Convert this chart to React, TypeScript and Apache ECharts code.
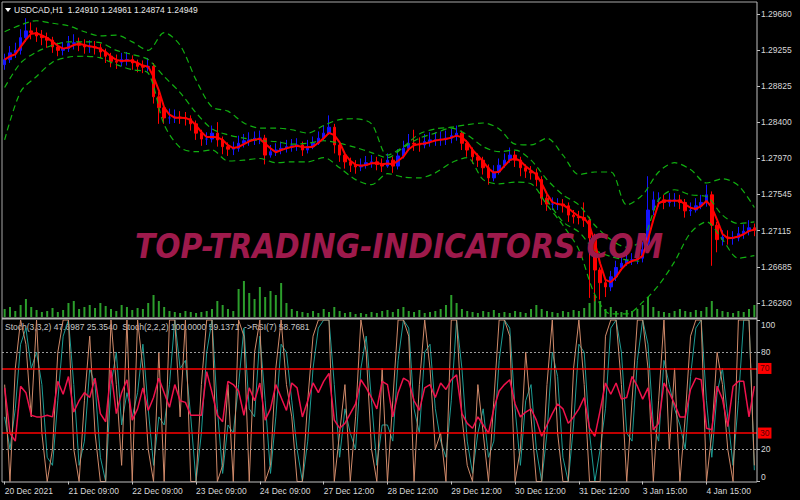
import React, { useEffect, useRef } from 'react';
import * as echarts from 'echarts';

const FONT = '"Liberation Sans", Arial, sans-serif';

const timeLabels = ['20 Dec 2021', '21 Dec 09:00', '22 Dec 09:00', '23 Dec 09:00', '24 Dec 09:00', '27 Dec 12:00', '28 Dec 12:00', '29 Dec 12:00', '30 Dec 12:00', '31 Dec 12:00', '3 Jan 15:00', '4 Jan 15:00'];
const priceTicks = [1.2626, 1.26685, 1.27115, 1.27545, 1.2797, 1.284, 1.28825, 1.29255, 1.2968];
const oscTicks = [0, 20, 80, 100];

// [open, close, low, high]
const candles = [
  [1.2908, 1.2914, 1.2902, 1.2921], [1.2914, 1.2922, 1.2910, 1.2930], [1.2922, 1.2925, 1.2916, 1.2934], [1.2925, 1.2940, 1.2920, 1.2950],
  [1.2940, 1.2948, 1.2935, 1.2963], [1.2948, 1.2946, 1.2938, 1.2958], [1.2946, 1.2942, 1.2935, 1.2952], [1.2942, 1.2940, 1.2931, 1.2949],
  [1.2940, 1.2937, 1.2928, 1.2946], [1.2937, 1.2929, 1.2922, 1.2941], [1.2929, 1.2925, 1.2918, 1.2934], [1.2925, 1.2927, 1.2919, 1.2935],
  [1.2927, 1.2933, 1.2923, 1.2942], [1.2933, 1.2934, 1.2926, 1.2944], [1.2934, 1.2931, 1.2924, 1.2940], [1.2931, 1.2929, 1.2921, 1.2938],
  [1.2929, 1.2929, 1.2922, 1.2937], [1.2929, 1.2928, 1.2920, 1.2936], [1.2928, 1.2923, 1.2916, 1.2933], [1.2923, 1.2918, 1.2910, 1.2927],
  [1.2918, 1.2912, 1.2905, 1.2922], [1.2912, 1.2911, 1.2903, 1.2920], [1.2911, 1.2914, 1.2906, 1.2922], [1.2914, 1.2914, 1.2907, 1.2923],
  [1.2914, 1.2910, 1.2902, 1.2919], [1.2910, 1.2906, 1.2899, 1.2914], [1.2906, 1.2905, 1.2898, 1.2913], [1.2905, 1.2906, 1.2900, 1.2916],
  [1.2906, 1.2870, 1.2862, 1.2910], [1.2870, 1.2857, 1.2838, 1.2876], [1.2857, 1.2845, 1.2838, 1.2862], [1.2845, 1.2845, 1.2838, 1.2856],
  [1.2845, 1.2846, 1.2839, 1.2855], [1.2846, 1.2845, 1.2838, 1.2853], [1.2845, 1.2844, 1.2836, 1.2852], [1.2844, 1.2838, 1.2830, 1.2848],
  [1.2838, 1.2827, 1.2819, 1.2842], [1.2827, 1.2820, 1.2812, 1.2831], [1.2820, 1.2820, 1.2813, 1.2828], [1.2820, 1.2827, 1.2816, 1.2836],
  [1.2827, 1.2819, 1.2811, 1.2840], [1.2819, 1.2811, 1.2802, 1.2823], [1.2811, 1.2808, 1.2800, 1.2816], [1.2808, 1.2809, 1.2801, 1.2817],
  [1.2809, 1.2815, 1.2805, 1.2824], [1.2815, 1.2818, 1.2810, 1.2826], [1.2818, 1.2819, 1.2812, 1.2828], [1.2819, 1.2821, 1.2813, 1.2829],
  [1.2821, 1.2821, 1.2814, 1.2830], [1.2821, 1.2801, 1.2790, 1.2825], [1.2801, 1.2805, 1.2798, 1.2813], [1.2805, 1.2807, 1.2800, 1.2815],
  [1.2807, 1.2809, 1.2802, 1.2817], [1.2809, 1.2811, 1.2804, 1.2819], [1.2811, 1.2812, 1.2805, 1.2820], [1.2812, 1.2813, 1.2806, 1.2821],
  [1.2813, 1.2807, 1.2800, 1.2817], [1.2807, 1.2811, 1.2803, 1.2819], [1.2811, 1.2815, 1.2808, 1.2823], [1.2815, 1.2821, 1.2813, 1.2829],
  [1.2821, 1.2827, 1.2818, 1.2836], [1.2827, 1.2834, 1.2825, 1.2848], [1.2834, 1.2813, 1.2803, 1.2838], [1.2813, 1.2801, 1.2793, 1.2816],
  [1.2801, 1.2793, 1.2785, 1.2805], [1.2793, 1.2789, 1.2781, 1.2798], [1.2789, 1.2787, 1.2779, 1.2795], [1.2787, 1.2789, 1.2782, 1.2797],
  [1.2789, 1.2792, 1.2785, 1.2800], [1.2792, 1.2793, 1.2786, 1.2801], [1.2793, 1.2790, 1.2783, 1.2799], [1.2790, 1.2788, 1.2781, 1.2797],
  [1.2788, 1.2795, 1.2786, 1.2803], [1.2795, 1.2788, 1.2780, 1.2799], [1.2788, 1.2800, 1.2784, 1.2808], [1.2800, 1.2809, 1.2797, 1.2818],
  [1.2809, 1.2815, 1.2806, 1.2826], [1.2815, 1.2814, 1.2806, 1.2831], [1.2814, 1.2813, 1.2805, 1.2822], [1.2813, 1.2817, 1.2809, 1.2826],
  [1.2817, 1.2819, 1.2811, 1.2828], [1.2819, 1.2819, 1.2812, 1.2828], [1.2819, 1.2820, 1.2812, 1.2829], [1.2820, 1.2821, 1.2813, 1.2830],
  [1.2821, 1.2824, 1.2815, 1.2832], [1.2824, 1.2827, 1.2818, 1.2836], [1.2827, 1.2815, 1.2807, 1.2830], [1.2815, 1.2807, 1.2799, 1.2819],
  [1.2807, 1.2799, 1.2791, 1.2810], [1.2799, 1.2795, 1.2787, 1.2803], [1.2795, 1.2786, 1.2778, 1.2799], [1.2786, 1.2774, 1.2766, 1.2790],
  [1.2774, 1.2781, 1.2770, 1.2789], [1.2781, 1.2789, 1.2778, 1.2797], [1.2789, 1.2795, 1.2786, 1.2803], [1.2795, 1.2801, 1.2792, 1.2810],
  [1.2801, 1.2795, 1.2787, 1.2806], [1.2795, 1.2786, 1.2776, 1.2799], [1.2786, 1.2782, 1.2774, 1.2790], [1.2782, 1.2780, 1.2772, 1.2788],
  [1.2780, 1.2772, 1.2764, 1.2785], [1.2772, 1.2750, 1.2742, 1.2776], [1.2750, 1.2743, 1.2735, 1.2754], [1.2743, 1.2743, 1.2736, 1.2751],
  [1.2743, 1.2743, 1.2736, 1.2750], [1.2743, 1.2741, 1.2733, 1.2749], [1.2741, 1.2730, 1.2722, 1.2745], [1.2730, 1.2728, 1.2720, 1.2736],
  [1.2728, 1.2727, 1.2719, 1.2735], [1.2727, 1.2724, 1.2716, 1.2745], [1.2724, 1.2703, 1.2632, 1.2728], [1.2703, 1.2665, 1.2628, 1.2708],
  [1.2665, 1.2650, 1.2630, 1.2668], [1.2650, 1.2645, 1.2633, 1.2655], [1.2645, 1.2657, 1.2640, 1.2664], [1.2657, 1.2668, 1.2652, 1.2676],
  [1.2668, 1.2673, 1.2665, 1.2680], [1.2673, 1.2677, 1.2670, 1.2684], [1.2677, 1.2677, 1.2671, 1.2685], [1.2677, 1.2679, 1.2672, 1.2686],
  [1.2679, 1.2689, 1.2674, 1.2698], [1.2689, 1.2736, 1.2685, 1.2776], [1.2736, 1.2748, 1.2730, 1.2758], [1.2748, 1.2748, 1.2740, 1.2757],
  [1.2748, 1.2745, 1.2737, 1.2754], [1.2745, 1.2748, 1.2740, 1.2756], [1.2748, 1.2748, 1.2740, 1.2756], [1.2748, 1.2745, 1.2737, 1.2754],
  [1.2745, 1.2735, 1.2727, 1.2749], [1.2735, 1.2736, 1.2729, 1.2745], [1.2736, 1.2741, 1.2733, 1.2750], [1.2741, 1.2745, 1.2737, 1.2754],
  [1.2745, 1.2754, 1.2740, 1.2766], [1.2754, 1.2718, 1.2670, 1.2758], [1.2718, 1.2701, 1.2686, 1.2722], [1.2701, 1.2704, 1.2694, 1.2712],
  [1.2704, 1.2703, 1.2695, 1.2712], [1.2703, 1.2703, 1.2695, 1.2711], [1.2703, 1.2708, 1.2699, 1.2716], [1.2708, 1.2711, 1.2702, 1.2719],
  [1.2711, 1.2715, 1.2706, 1.2724], [1.2715, 1.2712, 1.2705, 1.2720],
];

const volumes = [
  800, 1000, 600, 1200, 1800, 1000, 700, 500, 600, 900, 500, 700, 1400, 1600, 800, 1000, 1200, 900, 1400, 1100,
  800, 600, 1200, 1000, 700, 900, 800, 1400, 2200, 1600, 1000, 600, 500, 400, 600, 500, 400, 500, 600, 800,
  1600, 1200, 800, 600, 2800, 3600, 2400, 1800, 3000, 2000, 2600, 2200, 3400, 1400, 800, 600, 500, 400, 600, 400,
  800, 500, 1000, 600, 400, 500, 300, 400, 300, 500, 400, 600, 700, 500, 800, 1000, 600, 500, 700, 400,
  500, 600, 800, 1200, 2200, 1400, 800, 600, 500, 400, 600, 500, 700, 400, 500, 400, 600, 500, 400, 800,
  1200, 800, 600, 500, 400, 600, 500, 700, 600, 900, 1400, 2200, 1600, 800, 1000, 600, 500, 700, 600, 800,
  1200, 2000, 1000, 600, 500, 400, 600, 800, 600, 500, 700, 600, 1000, 1600, 800, 600, 500, 400, 600, 500,
  800, 1200,
];

// Bollinger-style dashed envelopes, sampled every 3 bars
const bandUpperOuter = [
  1.2947, 1.2955, 1.2960, 1.2957, 1.2954, 1.2947, 1.2942, 1.2943, 1.2935, 1.2925,
  1.2946, 1.2931, 1.2890, 1.2858, 1.2853, 1.2839, 1.2833, 1.2833, 1.2831, 1.2827,
  1.2836, 1.2843, 1.2844, 1.2838, 1.2801, 1.2811, 1.2826, 1.2832, 1.2834, 1.2837,
  1.2839, 1.2832, 1.2814, 1.2813, 1.2821, 1.2801, 1.2778, 1.2781, 1.2781, 1.2742,
  1.2754, 1.2781, 1.2792, 1.2784, 1.2768, 1.2773, 1.2765, 1.2739,
];
const bandUpperInner = [
  1.2881, 1.2910, 1.2923, 1.2931, 1.2935, 1.2935, 1.2934, 1.2925, 1.2920, 1.2914,
  1.2894, 1.2875, 1.2851, 1.2832, 1.2825, 1.2821, 1.2818, 1.2817, 1.2814, 1.2815,
  1.2818, 1.2815, 1.2810, 1.2804, 1.2798, 1.2810, 1.2821, 1.2827, 1.2833, 1.2825,
  1.2811, 1.2805, 1.2807, 1.2795, 1.2772, 1.2754, 1.2742, 1.2718, 1.2701, 1.2692,
  1.2701, 1.2748, 1.2760, 1.2754, 1.2752, 1.2730, 1.2720, 1.2722,
];
const bandLowerInner = [
  null, null, null, null, null, null, null, null, null, null,
  null, null, null, null, null, null, null, null, null, null,
  null, null, null, null, null, null, null, null, null, null,
  null, null, null, null, 1.2748, 1.2722, 1.2710, 1.2689, 1.2681, 1.2677,
  1.2675, null, null, null, null, null, null, null,
];
const bandLowerOuter = [
  1.2819, 1.2876, 1.2894, 1.2911, 1.2917, 1.2918, 1.2916, 1.2908, 1.2902, 1.2898,
  1.2837, 1.2810, 1.2805, 1.2807, 1.2794, 1.2795, 1.2797, 1.2792, 1.2793, 1.2793,
  1.2798, 1.2786, 1.2772, 1.2766, 1.2779, 1.2775, 1.2774, 1.2780, 1.2792, 1.2798,
  1.2772, 1.2767, 1.2769, 1.2767, 1.2742, 1.2718, 1.2689, 1.2636, 1.2613, 1.2613,
  1.2627, 1.2647, 1.2675, 1.2709, 1.2722, 1.2701, 1.2679, 1.2682,
];

const stochFast = [
  60, 0, 70, 100, 85, 40, 100, 30, 0, 20, 80, 100, 100, 20, 0, 50, 90, 30, 0, 0,
  100, 60, 10, 100, 0, 100, 70, 20, 0, 80, 0, 100, 100, 40, 100, 0, 0, 60, 100, 100,
  0, 10, 60, 0, 100, 90, 0, 80, 100, 0, 10, 70, 100, 60, 40, 0, 0, 50, 90, 100,
  100, 100, 0, 30, 60, 0, 40, 100, 80, 20, 0, 70, 0, 50, 100, 100, 90, 0, 60, 100,
  70, 20, 30, 0, 100, 100, 40, 10, 0, 60, 30, 0, 50, 100, 100, 90, 0, 20, 80, 40,
  0, 0, 60, 100, 30, 0, 0, 70, 100, 60, 0, 0, 0, 90, 100, 100, 60, 0, 50, 100,
  100, 70, 0, 50, 100, 20, 70, 0, 40, 90, 100, 100, 0, 30, 80, 60, 20, 0, 100, 100,
  100, 10,
];
const stochSlow = [
  40, 20, 45, 85, 95, 70, 80, 60, 15, 10, 50, 90, 100, 60, 10, 25, 70, 60, 15, 0,
  60, 80, 35, 55, 40, 55, 85, 45, 10, 40, 35, 60, 100, 70, 75, 40, 0, 30, 80, 100,
  45, 5, 35, 30, 60, 95, 45, 40, 90, 50, 5, 40, 85, 80, 50, 20, 0, 25, 70, 95,
  100, 100, 60, 15, 45, 30, 20, 70, 90, 50, 10, 35, 35, 25, 75, 100, 95, 45, 30, 80,
  85, 45, 25, 15, 50, 100, 70, 25, 5, 30, 45, 15, 25, 75, 100, 95, 45, 10, 50, 60,
  20, 0, 30, 80, 65, 15, 0, 35, 85, 80, 30, 0, 20, 45, 95, 100, 80, 30, 25, 75,
  100, 85, 35, 25, 75, 60, 45, 35, 20, 65, 95, 100, 50, 15, 55, 70, 40, 10, 50, 100,
  100, 7,
];
const rsi = [
  58, 30, 25, 59, 55, 41, 40, 40, 41, 40, 62, 54, 65, 43, 50, 55, 52, 64, 42, 37,
  69, 42, 55, 63, 38, 45, 58, 44, 52, 64, 55, 46, 60, 50, 49, 41, 41, 41, 68, 55,
  41, 37, 62, 60, 56, 41, 58, 50, 61, 38, 45, 60, 52, 44, 61, 58, 40, 50, 61, 55,
  62, 67, 38, 33, 36, 42, 48, 63, 58, 52, 45, 62, 60, 40, 55, 64, 62, 50, 44, 58,
  60, 52, 61, 57, 63, 66, 42, 36, 33, 40, 35, 30, 45, 56, 60, 63, 48, 40, 43, 45,
  38, 28, 35, 42, 48, 45, 36, 40, 45, 52, 33, 28, 44, 61, 54, 61, 51, 52, 65, 59,
  51, 58, 32, 36, 61, 55, 48, 40, 40, 57, 64, 63, 33, 32, 59, 51, 34, 59, 62, 62,
  40, 59,
];

const categories = candles.map((_, i) => (i % 12 === 0 ? timeLabels[i / 12] : ''));
const closes = candles.map((c) => c[1]);
const ma = closes.map((_, i) => {
  const s = closes.slice(Math.max(0, i - 2), i + 1);
  return +(s.reduce((a, b) => a + b, 0) / s.length).toFixed(5);
});
const bandIdx = bandUpperOuter.map((_, k) => k * 3);
const toPairs = (arr: (number | null)[]) =>
  arr.map((v, k) => (v == null ? null : [bandIdx[k], v])).filter((p) => p !== null);

const axisText = { color: '#d8d8d8', fontSize: 8.5, fontFamily: FONT };

function bandSeries(data: (number | null)[]) {
  return {
    type: 'line',
    xAxisIndex: 0,
    yAxisIndex: 0,
    data: toPairs(data),
    symbol: 'none',
    smooth: 0.3,
    silent: true,
    z: 3,
    lineStyle: { color: '#10b010', width: 1.2, type: [6, 4] },
  };
}

const option = {
  backgroundColor: '#000000',
  animation: false,
  grid: [
    { left: 2, right: 43, top: 3, height: 314 },
    { left: 2, right: 43, top: 277, height: 40 },
    { left: 2, right: 43, top: 320, height: 161.5 },
  ],
  xAxis: [
    { type: 'category', gridIndex: 0, data: categories, show: false, boundaryGap: true },
    { type: 'category', gridIndex: 1, data: categories, show: false, boundaryGap: true },
    {
      type: 'category',
      gridIndex: 2,
      data: categories,
      boundaryGap: true,
      axisLine: { show: false },
      axisTick: { show: true, interval: 11, alignWithLabel: true, length: 3, lineStyle: { color: '#c0c0c0' } },
      axisLabel: { ...axisText, interval: 11, align: 'left', margin: 5 },
      splitLine: { show: false },
    },
  ],
  yAxis: [
    {
      type: 'value',
      gridIndex: 0,
      position: 'right',
      min: 1.26094,
      max: 1.2981,
      splitLine: { show: false },
      axisLine: { show: false },
      axisTick: { show: true, customValues: priceTicks, length: 3, lineStyle: { color: '#c0c0c0' } },
      axisLabel: { ...axisText, customValues: priceTicks, margin: 4, formatter: (v: number) => v.toFixed(5) },
    },
    { type: 'value', gridIndex: 1, min: 0, max: 4000, show: false },
    {
      type: 'value',
      gridIndex: 2,
      position: 'right',
      min: 0,
      max: 100,
      splitLine: { show: false },
      axisLine: { show: false },
      axisTick: { show: true, customValues: oscTicks, length: 3, lineStyle: { color: '#c0c0c0' } },
      axisLabel: {
        ...axisText,
        customValues: oscTicks,
        margin: 4,
        verticalAlignMinLabel: 'bottom',
        verticalAlignMaxLabel: 'top',
      },
    },
  ],
  series: [
    {
      type: 'candlestick',
      xAxisIndex: 0,
      yAxisIndex: 0,
      data: candles,
      barWidth: 3,
      silent: true,
      z: 2,
      itemStyle: { color: '#1414ff', color0: '#ff0000', borderColor: '#1414ff', borderColor0: '#ff0000', borderWidth: 1 },
    },
    bandSeries(bandUpperOuter),
    bandSeries(bandUpperInner),
    bandSeries(bandLowerInner),
    bandSeries(bandLowerOuter),
    {
      type: 'line',
      xAxisIndex: 0,
      yAxisIndex: 0,
      data: ma,
      symbol: 'none',
      silent: true,
      z: 4,
      lineStyle: { color: '#ff0000', width: 2 },
    },
    {
      type: 'bar',
      xAxisIndex: 1,
      yAxisIndex: 1,
      data: volumes,
      barWidth: 2,
      silent: true,
      itemStyle: { color: '#2c9e2c' },
    },
    {
      type: 'line',
      xAxisIndex: 2,
      yAxisIndex: 2,
      data: stochSlow,
      symbol: 'none',
      silent: true,
      lineStyle: { color: '#1c9c94', width: 1 },
    },
    {
      type: 'line',
      xAxisIndex: 2,
      yAxisIndex: 2,
      data: stochFast,
      symbol: 'none',
      silent: true,
      lineStyle: { color: '#d08a6a', width: 1 },
    },
    {
      type: 'line',
      xAxisIndex: 2,
      yAxisIndex: 2,
      data: rsi,
      symbol: 'none',
      silent: true,
      z: 4,
      lineStyle: { color: '#f0124c', width: 1.5 },
      markLine: {
        silent: true,
        symbol: ['none', 'none'],
        data: [
          { yAxis: 80, lineStyle: { color: '#9a9a9a', type: [2, 2], width: 1 }, label: { show: false } },
          { yAxis: 20, lineStyle: { color: '#9a9a9a', type: [2, 2], width: 1 }, label: { show: false } },
          {
            yAxis: 70,
            lineStyle: { color: '#ff0000', type: 'solid', width: 1.5 },
            label: { show: true, position: 'end', formatter: '70', distance: 1, backgroundColor: '#ff0000', color: '#5a0000', padding: [1, 2], fontSize: 8.5, fontFamily: FONT },
          },
          {
            yAxis: 30,
            lineStyle: { color: '#ff0000', type: 'solid', width: 1.5 },
            label: { show: true, position: 'end', formatter: '30', distance: 1, backgroundColor: '#ff0000', color: '#5a0000', padding: [1, 2], fontSize: 8.5, fontFamily: FONT },
          },
        ],
      },
    },
  ],
  graphic: [
    { type: 'line', z: 20, shape: { x1: 2, y1: 2, x2: 757, y2: 2 }, style: { stroke: '#a8a8a8', lineWidth: 1 } },
    { type: 'line', z: 20, shape: { x1: 2, y1: 2, x2: 2, y2: 482 }, style: { stroke: '#a8a8a8', lineWidth: 1 } },
    { type: 'line', z: 20, shape: { x1: 757, y1: 2, x2: 757, y2: 482 }, style: { stroke: '#c0c0c0', lineWidth: 1 } },
    { type: 'line', z: 20, shape: { x1: 2, y1: 318.5, x2: 757, y2: 318.5 }, style: { stroke: '#b4b4b4', lineWidth: 2 } },
    { type: 'line', z: 20, shape: { x1: 2, y1: 482, x2: 757, y2: 482 }, style: { stroke: '#c0c0c0', lineWidth: 1 } },
    { type: 'polygon', z: 20, shape: { points: [[5, 8], [11, 8], [8, 12]] }, style: { fill: '#ffffff' } },
    {
      type: 'text',
      z: 20,
      x: 14,
      y: 10,
      style: { text: 'USDCAD,H1  1.24910 1.24961 1.24874 1.24949', fill: '#e8e8e8', font: '8.5px "Liberation Sans", Arial, sans-serif', textVerticalAlign: 'middle', verticalAlign: 'middle' },
    },
    {
      type: 'text',
      z: 1,
      x: 5,
      y: 327,
      style: { text: 'Stoch(3,3,2) 47.6987 25.3540  Stoch(2,2,2) 100.0000 59.1371  ->RSI(7) 58.7681', fill: '#c8c8c8', font: '8.5px "Liberation Sans", Arial, sans-serif', textVerticalAlign: 'middle', verticalAlign: 'middle' },
    },
    {
      type: 'text',
      z: 50,
      x: 399,
      y: 246,
      style: {
        text: 'TOP-TRADING-INDICATORS.COM',
        fill: '#9e1a4c',
        font: 'italic bold 33px "DejaVu Sans Condensed", "DejaVu Sans", sans-serif',
        textAlign: 'center',
        align: 'center',
        textVerticalAlign: 'middle',
        verticalAlign: 'middle',
      },
    },
  ],
};

export default function App() {
  const ref = useRef<HTMLDivElement>(null);
  useEffect(() => {
    if (!ref.current) return;
    const chart = echarts.init(ref.current, null, { renderer: 'svg', width: 800, height: 500 });
    chart.setOption(option as any);
    return () => chart.dispose();
  }, []);
  return <div ref={ref} style={{ position: 'fixed', left: 0, top: 0, width: 800, height: 500, background: '#000' }} />;
}
